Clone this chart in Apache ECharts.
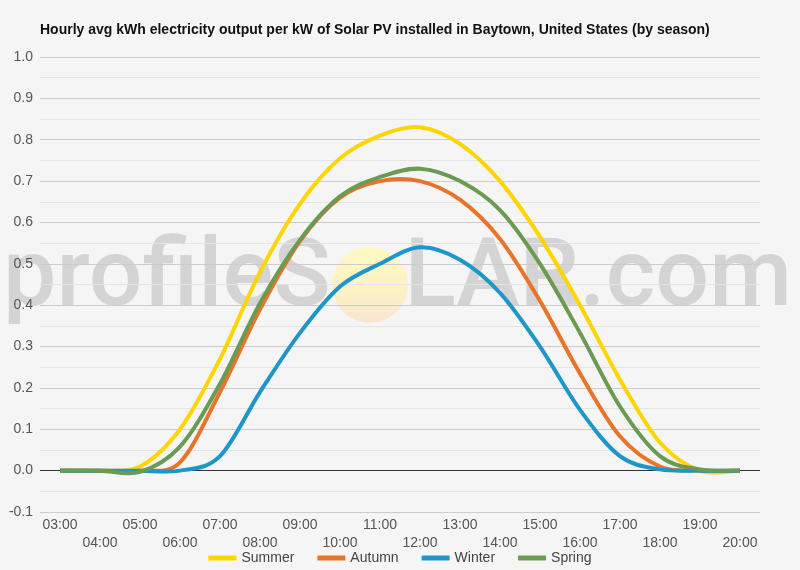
<!DOCTYPE html>
<html>
<head>
<meta charset="utf-8">
<script src="https://cdn.jsdelivr.net/npm/echarts@6/dist/echarts.min.js"></script>
<style>
html,body{margin:0;padding:0;background:#f5f5f5;}
#c{width:800px;height:570px;}
</style>
</head>
<body>
<div id="c"></div>
<script>
const hours = ['03:00','04:00','05:00','06:00','07:00','08:00','09:00','10:00','11:00','12:00','13:00','14:00','15:00','16:00','17:00','18:00','19:00','20:00'];
const summer = [0, 0, 0.01, 0.10, 0.27, 0.48, 0.645, 0.755, 0.81, 0.83, 0.79, 0.70, 0.565, 0.40, 0.22, 0.068, 0.0, 0];
const autumn = [0, 0, 0, 0.02, 0.19, 0.39, 0.555, 0.66, 0.70, 0.70, 0.655, 0.56, 0.41, 0.235, 0.083, 0.01, 0, 0];
const winter = [0, 0, 0, 0, 0.035, 0.19, 0.333, 0.445, 0.50, 0.54, 0.51, 0.43, 0.30, 0.147, 0.035, 0.003, 0, 0];
const spring = [0, 0, -0.003, 0.058, 0.21, 0.405, 0.558, 0.663, 0.71, 0.73, 0.70, 0.63, 0.50, 0.333, 0.155, 0.035, 0.003, 0];
const seriesNames = ['Summer','Autumn','Winter','Spring'];
const colors = ['#FFD500','#E8742A','#1E96C8','#6B9A52'];
const titleText = 'Hourly avg kWh electricity output per kW of Solar PV installed in Baytown, United States (by season)';

const chart = echarts.init(document.getElementById('c'));
const datasets = [summer, autumn, winter, spring];

// Smooth (Catmull-Rom) curve through the data, positioned by the axes via api.coord
function splinePath(pts) {
  let d = 'M' + pts[0][0] + ' ' + pts[0][1];
  for (let i = 0; i < pts.length - 1; i++) {
    const p0 = pts[i - 1] || pts[i];
    const p1 = pts[i];
    const p2 = pts[i + 1];
    const p3 = pts[i + 2] || pts[i + 1];
    const c1x = p1[0] + (p2[0] - p0[0]) / 6, c1y = p1[1] + (p2[1] - p0[1]) / 6;
    const c2x = p2[0] - (p3[0] - p1[0]) / 6, c2y = p2[1] - (p3[1] - p1[1]) / 6;
    d += ' C' + c1x + ' ' + c1y + ' ' + c2x + ' ' + c2y + ' ' + p2[0] + ' ' + p2[1];
  }
  return d;
}

const series = datasets.map((d, si) => ({
  name: seriesNames[si],
  type: 'custom',
  data: d.map((v, i) => [i, v]),
  encode: {x: 0, y: 1},
  itemStyle: {color: colors[si]},
  z: 3 + si,
  renderItem: function (params, api) {
    if (params.dataIndex !== 0) return null;
    const pts = d.map((v, i) => api.coord([i, v]));
    return {
      type: 'path',
      shape: {pathData: splinePath(pts)},
      style: {fill: 'none', stroke: colors[si], lineWidth: 4, lineJoin: 'round', lineCap: 'butt'}
    };
  }
}));
series[0].markLine = {
  silent: true,
  symbol: 'none',
  label: {show: false},
  lineStyle: {color: '#333', width: 1, type: 'solid'},
  data: [{yAxis: 0}],
  z: 2
};
const FONT = 'Liberation Sans, Arial';
const WM_FONT = '500 95px Roboto, "Liberation Sans", Arial';
chart.setOption({
  backgroundColor: '#f5f5f5',
  animation: false,
  title: {
    text: titleText,
    left: 35, top: 18,
    textStyle: {fontFamily: FONT, fontSize: 14, fontWeight: 'bold', color: '#111'}
  },
  graphic: [
    {type: 'text', left: 3, top: 234, z: 0, silent: true,
     style: {text: 'profileS', font: WM_FONT, fill: 'rgba(110,110,110,0.24)'}},
    {type: 'circle', shape: {cx: 370, cy: 285, r: 38}, z: 0, silent: true,
     style: {fill: new echarts.graphic.LinearGradient(0,0,0,1,[{offset:0,color:'rgba(255,250,185,0.85)'},{offset:0.6,color:'rgba(253,240,185,0.8)'},{offset:1,color:'rgba(250,220,190,0.65)'}])}},
    {type: 'text', right: 8, top: 234, z: 0, silent: true,
     style: {text: 'LAR.com', font: WM_FONT, fill: 'rgba(110,110,110,0.24)'}}
  ],
  legend: {
    bottom: 0, left: 'center',
    icon: 'rect', itemWidth: 28, itemHeight: 5, itemGap: 23,
    textStyle: {fontFamily: FONT, fontSize: 14, color: '#444'},
    data: seriesNames
  },
  grid: {left: 40, right: 40, top: 57, bottom: 58, containLabel: false},
  xAxis: {
    type: 'category',
    data: hours,
    boundaryGap: true,
    axisLine: {show: false},
    axisTick: {show: false},
    axisLabel: {
      interval: 0, color: '#555', fontFamily: FONT, fontSize: 14,
      margin: 4, lineHeight: 18,
      formatter: (v, i) => (i % 2 === 1 ? '\n' + v : v)
    }
  },
  yAxis: {
    type: 'value', min: -0.1, max: 1.0, interval: 0.1,
    axisLine: {show: false}, axisTick: {show: false},
    axisLabel: {color: '#555', fontFamily: FONT, fontSize: 14, margin: 7,
      formatter: v => v.toFixed(1)},
    splitLine: {lineStyle: {color: '#cccccc', width: 1}},
    minorTick: {show: false, splitNumber: 2},
    minorSplitLine: {show: true, lineStyle: {color: '#e4e4e4', width: 1}}
  },
  series: series
});
</script>
</body>
</html>
